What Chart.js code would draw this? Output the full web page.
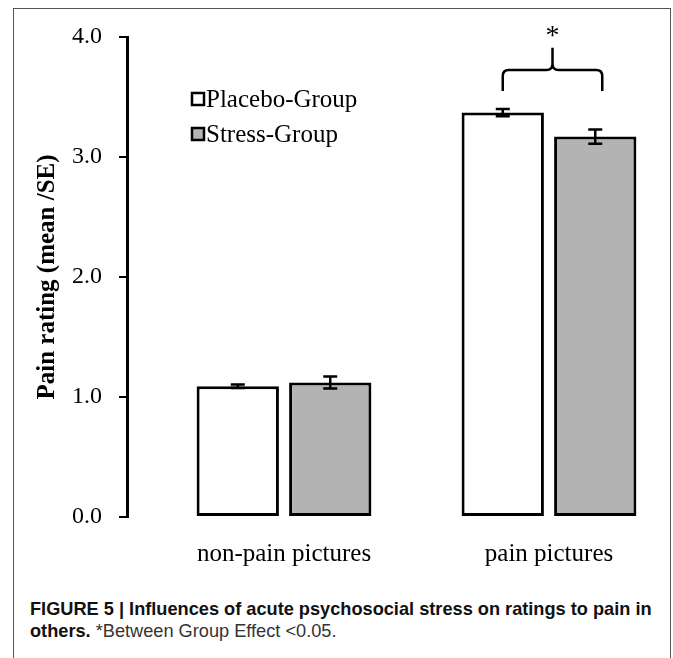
<!DOCTYPE html>
<html>
<head>
<meta charset="utf-8">
<script src="https://cdn.jsdelivr.net/npm/chart.js@4.4.0/dist/chart.umd.min.js"></script>
<style>
html, body { margin: 0; padding: 0; background: #fff; }
body { width: 673px; height: 658px; position: relative; overflow: hidden; }
.frame { position: absolute; left: 13px; top: 8px; width: 658px; height: 720px; border: 1px solid #555; box-sizing: border-box; }
#wrap { position: absolute; left: 0; top: 0; width: 673px; height: 590px; }
.caption { position: absolute; left: 30px; top: 598px; font-family: "Liberation Sans", Arial, sans-serif; font-size: 18.2px; line-height: 22px; white-space: nowrap; color: #111; }
.caption b { font-weight: bold; }
.caption span { color: #333; }
</style>
</head>
<body>
<div class="frame"></div>
<div id="wrap"><canvas id="chart" width="673" height="590"></canvas></div>
<div class="caption"><b>FIGURE 5 | Influences of acute psychosocial stress on ratings to pain in</b><br><b>others.</b> <span>*Between Group Effect &lt;0.05.</span></div>

<script>
// data
const categories = ['non-pain pictures', 'pain pictures'];
const placebo = [1.09, 3.37];
const placeboSE = [0.015, 0.03];
const stress = [1.12, 3.17];
const stressSE = [0.05, 0.06];
const yTicks = [0, 1, 2, 3, 4];

const serif = '"Liberation Serif", "Times New Roman", serif';

function points(arr) {
    return arr.map(function (v, i) { return { x: i, y: v }; });
}

// error bars on top of each bar
const errorBars = {
    id: 'errorBars',
    afterDatasetsDraw(chart) {
        const ctx = chart.ctx;
        const y = chart.scales.y;
        const errs = [placeboSE, stressSE];
        ctx.save();
        ctx.strokeStyle = '#000';
        ctx.lineWidth = 2.5;
        chart.data.datasets.forEach(function (ds, d) {
            const meta = chart.getDatasetMeta(d);
            meta.data.forEach(function (bar, i) {
                const v = ds.data[i].y;
                const top = y.getPixelForValue(v + errs[d][i]);
                const bot = y.getPixelForValue(v - errs[d][i]);
                ctx.beginPath();
                ctx.moveTo(bar.x, top); ctx.lineTo(bar.x, bot);
                ctx.moveTo(bar.x - 7, top); ctx.lineTo(bar.x + 7, top);
                ctx.moveTo(bar.x - 7, bot); ctx.lineTo(bar.x + 7, bot);
                ctx.stroke();
            });
        });
        ctx.restore();
    }
};

// brace + asterisk over the pain pictures group
const brace = {
    id: 'brace',
    afterDatasetsDraw(chart) {
        const ctx = chart.ctx;
        const y = chart.scales.y;
        const left = chart.getDatasetMeta(0).data[1].x;
        const right = chart.getDatasetMeta(1).data[1].x + 7;
        const mid = (left + right) / 2;
        const yLeg = y.getPixelForValue(3.55);
        const yBar = y.getPixelForValue(3.725);
        const yTip = y.getPixelForValue(3.91);
        const r = 6;
        ctx.save();
        ctx.strokeStyle = '#000';
        ctx.lineWidth = 2.5;
        ctx.beginPath();
        ctx.moveTo(left, yLeg);
        ctx.lineTo(left, yBar + r);
        ctx.quadraticCurveTo(left, yBar, left + r, yBar);
        ctx.lineTo(mid - r, yBar);
        ctx.quadraticCurveTo(mid, yBar, mid, yBar - r);
        ctx.lineTo(mid, yTip);
        ctx.moveTo(mid, yBar - r);
        ctx.quadraticCurveTo(mid, yBar, mid + r, yBar);
        ctx.lineTo(right - r, yBar);
        ctx.quadraticCurveTo(right, yBar, right, yBar + r);
        ctx.lineTo(right, yLeg);
        ctx.stroke();
        ctx.fillStyle = '#000';
        ctx.font = '28px ' + serif;
        ctx.textAlign = 'center';
        ctx.textBaseline = 'middle';
        ctx.fillText('*', mid, y.getPixelForValue(4.0));
        ctx.restore();
    }
};

// legend inside the plot
const innerLegend = {
    id: 'innerLegend',
    afterDraw(chart) {
        const ctx = chart.ctx;
        ctx.save();
        ctx.font = '25px ' + serif;
        ctx.textBaseline = 'middle';
        ctx.textAlign = 'left';
        chart.data.datasets.forEach(function (ds, i) {
            const yy = 99 + i * 35;
            ctx.fillStyle = ds.backgroundColor;
            ctx.fillRect(192, yy - 6, 12, 12);
            ctx.strokeStyle = '#000';
            ctx.lineWidth = 2.5;
            ctx.strokeRect(192, yy - 6, 12, 12);
            ctx.fillStyle = '#000';
            ctx.fillText(ds.label, 206, yy + 1);
        });
        ctx.restore();
    }
};

const ctx = document.getElementById('chart').getContext('2d');
const chart = new Chart(ctx, {
    type: 'bar',
    data: {
        datasets: [{
            label: 'Placebo-Group',
            data: points(placebo),
            backgroundColor: '#ffffff',
            borderColor: '#000',
            borderWidth: 3,
            borderSkipped: false
        }, {
            label: 'Stress-Group',
            data: points(stress),
            backgroundColor: '#b3b3b3',
            borderColor: '#000',
            borderWidth: 3,
            borderSkipped: false
        }]
    },
    options: {
        responsive: false,
        devicePixelRatio: 1,
        animation: false,
        categoryPercentage: 0.698,
        barPercentage: 0.89,
        layout: { padding: { top: 37, right: 18, left: 0, bottom: 0 } },
        plugins: {
            legend: { display: false },
            tooltip: { enabled: false }
        },
        scales: {
            x: {
                type: 'linear',
                offset: false,
                min: -0.5925,
                max: 1.4,
                grid: { display: false },
                border: { display: false },
                afterBuildTicks: function (scale) {
                    scale.ticks = categories.map(function (c, i) { return { value: i }; });
                },
                afterFit: function (scale) { scale.height = 73; },
                ticks: {
                    autoSkip: false,
                    maxRotation: 0,
                    padding: 14,
                    color: '#000',
                    font: { family: serif, size: 25 },
                    callback: function (v) { return categories[v]; }
                }
            },
            y: {
                min: 0,
                max: 4,
                afterBuildTicks: function (scale) {
                    scale.ticks = yTicks.map(function (v) { return { value: v }; });
                },
                afterFit: function (scale) { scale.width = 127; },
                grid: {
                    drawOnChartArea: false,
                    drawTicks: true,
                    tickLength: 8,
                    color: '#000',
                    lineWidth: 2
                },
                border: { display: true, color: '#000', width: 3 },
                ticks: {
                    padding: 17,
                    color: '#000',
                    font: { family: serif, size: 24 },
                    callback: function (v) { return v.toFixed(1); }
                },
                title: {
                    display: true,
                    text: 'Pain rating (mean /SE)',
                    color: '#000',
                    padding: { top: 33, bottom: 0 },
                    font: { family: serif, size: 25, weight: 'bold' }
                }
            }
        }
    },
    plugins: [errorBars, brace, innerLegend]
});
</script>
</body>
</html>
